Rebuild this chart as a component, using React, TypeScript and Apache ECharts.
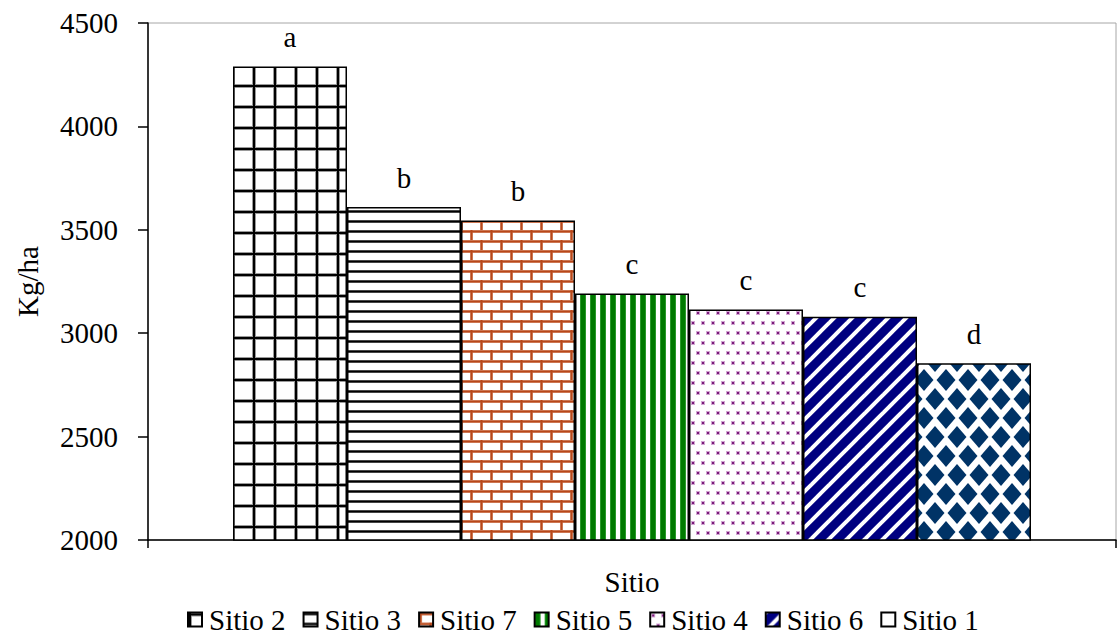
import React, { useEffect, useRef } from "react";
import * as echarts from "echarts";

// Yield per site (Kg/ha), ordered as plotted
const sitios = ["Sitio 2", "Sitio 3", "Sitio 7", "Sitio 5", "Sitio 4", "Sitio 6", "Sitio 1"];
const rendimiento = [4290, 3610, 3545, 3192, 3115, 3080, 2855];
const letras = ["a", "b", "b", "c", "c", "c", "d"];
const yMin = 2000;
const yMax = 4500;
const yStep = 500;

const FONT = "'Liberation Serif', 'Times New Roman', serif";

type Draw = (ctx: CanvasRenderingContext2D, w: number, h: number) => void;

function makeTile(w: number, h: number, draw: Draw, bg = "#ffffff") {
  const c = document.createElement("canvas");
  c.width = w;
  c.height = h;
  const ctx = c.getContext("2d")!;
  ctx.fillStyle = bg;
  ctx.fillRect(0, 0, w, h);
  draw(ctx, w, h);
  return { image: c.toDataURL(), repeat: "repeat", imageWidth: w, imageHeight: h } as any;
}

function buildPatterns() {
  // square grid
  const grid = makeTile(21, 21, (ctx) => {
    ctx.fillStyle = "#9a9a9a";
    ctx.fillRect(0, 0, 4, 21);
    ctx.fillRect(0, 0, 21, 4);
    ctx.fillStyle = "#000";
    ctx.fillRect(1, 0, 2, 21);
    ctx.fillRect(0, 1, 21, 2);
  });
  // horizontal lines
  const horiz = makeTile(10, 10, (ctx) => {
    ctx.fillStyle = "#8a8a8a";
    ctx.fillRect(0, 0, 10, 3);
    ctx.fillStyle = "#000";
    ctx.fillRect(0, 0.5, 10, 2);
  });
  // bricks
  const brick = makeTile(20, 20, (ctx) => {
    const col = "#b8481a";
    ctx.fillStyle = "#e0a58a";
    ctx.fillRect(0, 0, 20, 3);
    ctx.fillRect(0, 10, 20, 3);
    ctx.fillRect(0, 0, 3, 10);
    ctx.fillRect(10, 10, 3, 10);
    ctx.fillStyle = col;
    ctx.fillRect(0, 0.5, 20, 2);
    ctx.fillRect(0, 10.5, 20, 2);
    ctx.fillRect(0.5, 0, 2, 10);
    ctx.fillRect(10.5, 10, 2, 10);
  });
  // vertical stripes
  const vert = makeTile(10, 10, (ctx) => {
    ctx.fillStyle = "#2a9a2a";
    ctx.fillRect(0, 0, 6, 10);
    ctx.fillStyle = "#007a00";
    ctx.fillRect(1, 0, 4, 10);
  });
  // dots
  const dots = makeTile(10, 20, (ctx) => {
    ctx.fillStyle = "#d2a6d2";
    ctx.fillRect(1, 1, 4, 4);
    ctx.fillRect(6, 11, 4, 4);
    ctx.fillStyle = "#7a1a7a";
    ctx.fillRect(2, 2, 2, 2);
    ctx.fillRect(7, 12, 2, 2);
  });
  // diagonal stripes on navy
  const diag = makeTile(
    18,
    18,
    (ctx) => {
      ctx.strokeStyle = "#ffffff";
      ctx.lineWidth = 4;
      for (let k = -1; k <= 1; k++) {
        ctx.beginPath();
        ctx.moveTo(-2 + k * 18, 20);
        ctx.lineTo(20 + k * 18, -2);
        ctx.stroke();
      }
    },
    "#000080"
  );
  // rounded diamonds in staggered rows
  const diamonds = makeTile(22, 38, (ctx) => {
    ctx.fillStyle = "#003366";
    const d = (cx: number, cy: number, rx: number, ry: number) => {
      const k = 0.5;
      ctx.beginPath();
      ctx.moveTo(cx, cy - ry);
      ctx.quadraticCurveTo(cx + rx * k, cy - ry * k, cx + rx, cy);
      ctx.quadraticCurveTo(cx + rx * k, cy + ry * k, cx, cy + ry);
      ctx.quadraticCurveTo(cx - rx * k, cy + ry * k, cx - rx, cy);
      ctx.quadraticCurveTo(cx - rx * k, cy - ry * k, cx, cy - ry);
      ctx.fill();
    };
    [
      [0, 0],
      [22, 0],
      [0, 38],
      [22, 38],
      [11, 19],
    ].forEach(([x, y]) => d(x, y, 9.5, 11));
  });
  return [grid, horiz, brick, vert, dots, diag, diamonds];
}

export default function App() {
  const ref = useRef<HTMLDivElement>(null);

  useEffect(() => {
    document.body.style.margin = "0";
    const chart = echarts.init(ref.current!, undefined, { renderer: "svg" });
    const patterns = buildPatterns();

    const series = sitios.map((name, i) => ({
      name,
      type: "bar",
      data: [rendimiento[i]],
      barWidth: 114,
      barGap: "0%",
      itemStyle: { color: patterns[i], borderColor: "#000", borderWidth: 1.5 },
      label: {
        show: true,
        position: "top",
        distance: 15,
        formatter: () => letras[i],
        color: "#000",
        fontFamily: FONT,
        fontSize: 29,
      },
    }));

    chart.setOption({
      animation: false,
      backgroundColor: "#fff",
      textStyle: { fontFamily: FONT },
      grid: {
        left: 148,
        right: 1,
        top: 23,
        bottom: 95,
        show: true,
        borderColor: "#a6a6a6",
        borderWidth: 1,
      },
      legend: {
        left: 182,
        top: 600,
        itemWidth: 14,
        itemHeight: 14,
        itemGap: 17,
        icon: "rect",
        textStyle: { fontFamily: FONT, fontSize: 29, color: "#000", padding: [0, 0, 0, 2] },
        data: sitios.map((name) =>
          name === "Sitio 1" ? { name, itemStyle: { color: "#ffffff" } } : { name }
        ),
      },
      xAxis: {
        type: "category",
        data: [""],
        name: "Sitio",
        nameLocation: "middle",
        nameGap: 27,
        nameTextStyle: { fontFamily: FONT, fontSize: 29, color: "#000" },
        axisLine: { lineStyle: { color: "#000", width: 1.5 } },
        axisTick: { show: true, length: 8, lineStyle: { color: "#000", width: 1.5 } },
        axisLabel: { show: false },
      },
      yAxis: {
        type: "value",
        min: yMin,
        max: yMax,
        interval: yStep,
        name: "Kg/ha",
        nameLocation: "middle",
        nameGap: 106,
        nameTextStyle: { fontFamily: FONT, fontSize: 29, color: "#000" },
        axisLine: { show: true, lineStyle: { color: "#000", width: 1.5 } },
        axisTick: { show: true, length: 10, lineStyle: { color: "#000", width: 1.5 } },
        axisLabel: {
          margin: 30,
          fontFamily: FONT,
          fontSize: 29,
          color: "#000",
          formatter: (v: number) => String(v),
        },
        splitLine: { show: false },
      },
      series,
    });

    return () => chart.dispose();
  }, []);

  return <div ref={ref} style={{ width: 1117, height: 635 }} />;
}
